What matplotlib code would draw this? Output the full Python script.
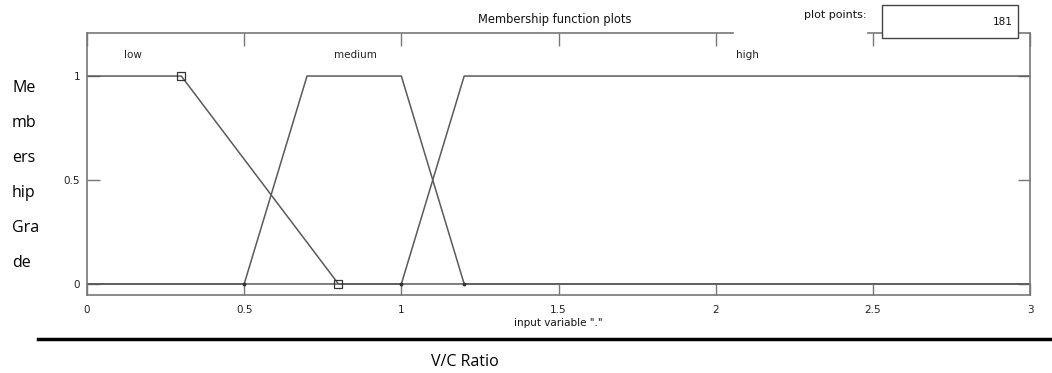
import matplotlib.pyplot as plt

# membership function breakpoints (input variable, V/C ratio)
low_x = [0, 0.3, 0.8, 3]
low_y = [1, 1, 0, 0]
medium_x = [0, 0.5, 0.7, 1.0, 1.2, 3]
medium_y = [0, 0, 1, 1, 0, 0]
high_x = [0, 1.0, 1.2, 3]
high_y = [0, 0, 1, 1]

mf_names = ["low", "medium", "high"]
mf_label_x = [0.146, 0.853, 2.10]

x_ticks = [0, 0.5, 1, 1.5, 2, 2.5, 3]
x_tick_labels = ["0", "0.5", "1", "1.5", "2", "2.5", "3"]
y_ticks = [0, 0.5, 1]
y_tick_labels = ["0", "0.5", "1"]
ylabel_parts = ["Me", "mb", "ers", "hip", "Gra", "de"]

W, H = 1052, 373
fig = plt.figure(figsize=(W / 100, H / 100), dpi=100)
ax = fig.add_axes([87 / W, 1 - 295 / H, 943 / W, 262 / H])

line_col = "#5a5a5a"
ax.plot(low_x, low_y, color=line_col, lw=1.1)
ax.plot(medium_x, medium_y, color=line_col, lw=1.1)
ax.plot(high_x, high_y, color=line_col, lw=1.1)
# selected MF parameters shown with square handles
ax.plot(low_x[1:3], low_y[1:3], ls="none", marker="s", ms=6,
        mfc="none", mec="#333333", mew=0.9)
ax.plot(medium_x[1:5:3], medium_y[1:5:3], ls="none", marker="o", ms=1.8, color="#333333")
ax.plot(high_x[1:2], high_y[1:2], ls="none", marker="o", ms=1.8, color="#333333")

ax.set_xlim(0, 3)
ax.set_ylim(-0.053, 1.207)

small = dict(fontsize=7.5, family="DejaVu Sans")
ax.set_xticks(x_ticks)
ax.set_xticklabels(x_tick_labels, **small, color="#222222")
ax.set_yticks(y_ticks)
ax.set_yticklabels(y_tick_labels, **small, color="#222222")
ax.tick_params(direction="in", length=9, width=1, color="#777777",
               top=True, right=True, pad=5)
ax.tick_params(axis="x", pad=7)

for sp in ["left", "right", "bottom"]:
    ax.spines[sp].set_color("#777777")
    ax.spines[sp].set_linewidth(1.2)
ax.spines["top"].set_visible(False)
# top border is broken where the panel was cut
for x0, x1 in [(87, 733), (868, 1030)]:
    ax.plot([(x0 - 87) / 943, (x1 - 87) / 943], [1, 1], transform=ax.transAxes,
            color="#777777", lw=1.2, clip_on=False)

for name, lx in zip(mf_names, mf_label_x):
    ax.text(lx, 1.10, name, ha="center", va="center", fontsize=7.5,
            color="#222222")

ax.set_xlabel('input variable "."', fontsize=7.5, labelpad=2, color="#111111")

fig.text(555 / W, 1 - 19 / H, "Membership function plots", ha="center",
         va="center", fontsize=8.3, color="#111111")
fig.text(867 / W, 1 - 15 / H, "plot points:", ha="right", va="center",
         fontsize=8, color="#111111")
box = plt.Rectangle((882 / W, 1 - 38 / H), 136 / W, 33 / H,
                    transform=fig.transFigure, facecolor="white",
                    edgecolor="#444444", lw=1.0, zorder=5)
fig.add_artist(box)
fig.text(1013 / W, 1 - 22 / H, "181", ha="right", va="center",
         fontsize=7.5, color="#111111", zorder=6)

# word-wrapped y label from the host document
for i, part in enumerate(ylabel_parts):
    fig.text(12 / W, 1 - (88 + 35 * i) / H, part, ha="left", va="center",
             fontsize=11.5, family="Open Sans")

fig.add_artist(plt.Line2D([38 / W, 1], [1 - 339 / H] * 2,
                          transform=fig.transFigure, color="black", lw=2.5))
fig.text(465 / W, 1 - 362 / H, "V/C Ratio", ha="center", va="center",
         fontsize=11.5, family="Open Sans")

fig.savefig("out.png", dpi=100)
